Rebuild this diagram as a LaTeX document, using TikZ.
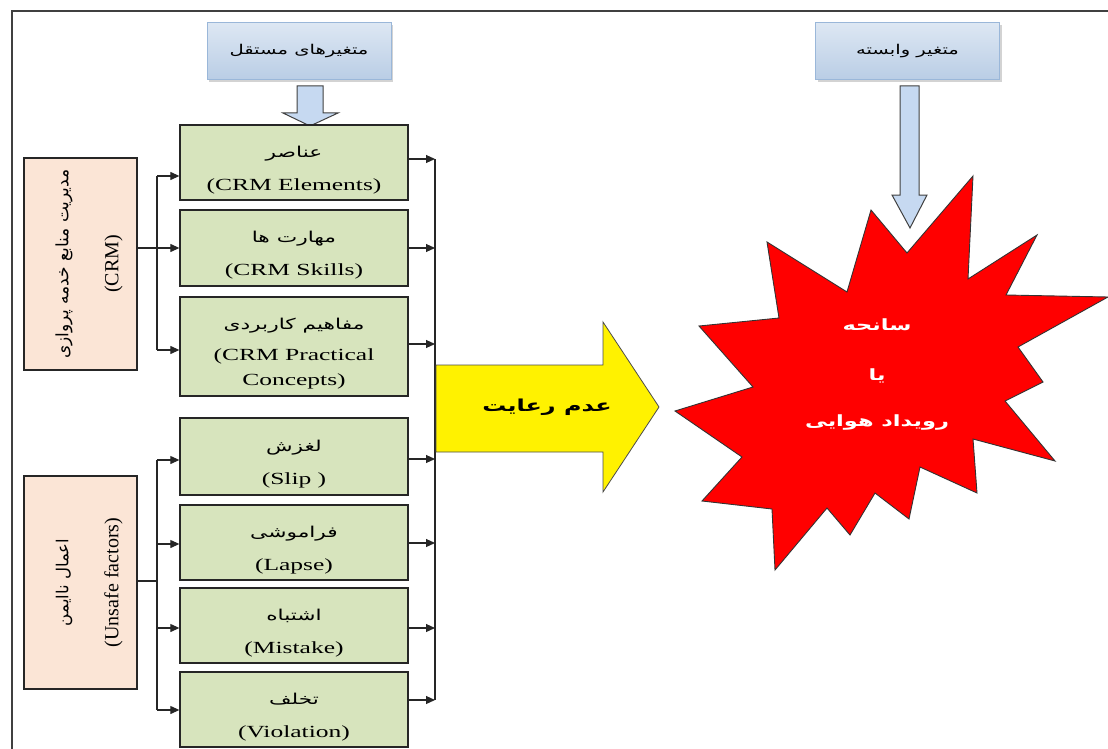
\documentclass[tikz,border=0pt]{standalone}
\usepackage{fontspec}
\setmainfont{Liberation Serif}
\newfontfamily\en[FakeStretch=1.5]{Liberation Serif}
\newfontfamily\enr{Liberation Serif}
\newfontfamily\fa[Script=Arabic]{DejaVu Sans}
\newfontfamily\faw[Script=Arabic,FakeStretch=1.45]{DejaVu Sans}
\TeXXeTstate=1
\usetikzlibrary{shadows,arrows.meta}
\definecolor{greenfill}{HTML}{D7E4BD}
\definecolor{peachfill}{HTML}{FBE5D6}
\definecolor{titletop}{HTML}{DDE7F3}
\definecolor{titlebot}{HTML}{B9CDE5}
\definecolor{titleborder}{HTML}{9AB7D9}
\definecolor{arrowblue}{HTML}{C6D9F1}
\newcommand\FaBox[1]{\rule{0pt}{26pt}{\faw\fontsize{15}{33}\selectfont\beginR #1\endR}}
\newcommand\EnBox[1]{{\en\fontsize{17}{33}\selectfont #1}}
\begin{document}
\begin{tikzpicture}[x=1pt,y=-1pt,
  gbox/.style={draw=black!85, line width=1.3pt, fill=greenfill, minimum width=228pt, align=center, inner sep=0pt, font=\fontsize{17}{33}\selectfont},
  pbox/.style={draw=black!85, line width=1.3pt, fill=peachfill, rotate=90, minimum width=212pt, minimum height=113pt, align=center, inner sep=0pt, font=\fontsize{20}{50}\selectfont},
  tbox/.style={draw=titleborder, line width=1pt, top color=titletop, bottom color=titlebot, minimum width=184pt, minimum height=57pt, drop shadow={opacity=0.35, shadow xshift=2pt, shadow yshift=-2.5pt}},
  conn/.style={line width=1.1pt, black!85},
  arr/.style={conn, -{Triangle[length=9pt,width=8pt]}},
  barrow/.style={fill=arrowblue, draw=black!75, line width=1pt, line join=miter}
]
\useasboundingbox (0,0) rectangle (1108,749);
% frame
\draw[line width=1.2pt, black!75] (12,749) -- (12,11) -- (1108,11);

% title boxes
\node[tbox] (t1) at (299,51.5) {{\faw\fontsize{13.5}{16}\selectfont\beginR متغیرهای مستقل\endR}};
\node[tbox] (t2) at (907.5,51.5) {{\faw\fontsize{13.5}{16}\selectfont\beginR متغیر وابسته\endR}};

% block arrows
\draw[barrow] (297,86) -- (323,86) -- (323,113) -- (338,113) -- (310,126) -- (283,113) -- (297,113) -- cycle;
\draw[barrow] (900,86) -- (919,86) -- (919,195) -- (927,195) -- (910,228) -- (892,195) -- (900,195) -- cycle;

% green boxes
\node[gbox, minimum height=75pt] (b1) at (294,162.5) {\FaBox{عناصر}\\ \EnBox{(CRM Elements)}};
\node[gbox, minimum height=76pt] (b2) at (294,248) {\FaBox{مهارت ها}\\ \EnBox{(CRM Skills)}};
\node[gbox, minimum height=99pt] (b3) at (294,346.5) {\FaBox{مفاهیم کاربردی}\\[-2pt] \EnBox{(CRM Practical}\\[-8pt] \EnBox{Concepts)}};
\node[gbox, minimum height=77pt] (b4) at (294,456.5) {\FaBox{لغزش}\\ \EnBox{(Slip )}};
\node[gbox, minimum height=75pt] (b5) at (294,542.5) {\FaBox{فراموشی}\\ \EnBox{(Lapse)}};
\node[gbox, minimum height=75pt] (b6) at (294,625.5) {\FaBox{اشتباه}\\ \EnBox{(Mistake)}};
\node[gbox, minimum height=75pt] (b7) at (294,709.5) {\FaBox{تخلف}\\ \EnBox{(Violation)}};

% peach boxes
\node[pbox] (crm) at (80.5,264) {\rule{0pt}{30pt}{\fa\fontsize{17}{50}\selectfont\beginR مدیریت منابع خدمه پروازی\endR}\\{\enr\fontsize{20}{50}\selectfont (CRM)}};
\node[pbox, minimum width=213pt] (us) at (80.5,582.5) {\rule{0pt}{30pt}{\fa\fontsize{16.5}{50}\selectfont\beginR اعمال ناایمن\endR}\\{\enr\fontsize{20}{50}\selectfont (Unsafe factors)}};

% left buses
\coordinate (l1) at (157,248);
\coordinate (l1a) at (157,176);
\coordinate (l1c) at (157,350);
\draw[conn] (crm.south |- l1) -- (l1);
\draw[conn] (l1a) -- (l1c);
\draw[arr] (l1a) -- (b1.west |- l1a);
\draw[arr] (l1) -- (b2.west |- l1);
\draw[arr] (l1c) -- (b3.west |- l1c);

\coordinate (l2) at (157,581);
\coordinate (l2a) at (157,460);
\coordinate (l2b) at (157,544);
\coordinate (l2c) at (157,628);
\coordinate (l2d) at (157,710);
\draw[conn] (us.south |- l2) -- (l2);
\draw[conn] (l2a) -- (l2d);
\draw[arr] (l2a) -- (b4.west |- l2a);
\draw[arr] (l2b) -- (b5.west |- l2b);
\draw[arr] (l2c) -- (b6.west |- l2c);
\draw[arr] (l2d) -- (b7.west |- l2d);

% right bus
\coordinate (r1) at (435,159);
\coordinate (r2) at (435,248);
\coordinate (r3) at (435,344);
\coordinate (r4) at (435,459);
\coordinate (r5) at (435,543);
\coordinate (r6) at (435,628);
\coordinate (r7) at (435,700);
\draw[conn] (r1) -- (r7);
\draw[arr] (b1.east |- r1) -- (r1);
\draw[arr] (b2.east |- r2) -- (r2);
\draw[arr] (b3.east |- r3) -- (r3);
\draw[arr] (b4.east |- r4) -- (r4);
\draw[arr] (b5.east |- r5) -- (r5);
\draw[arr] (b6.east |- r6) -- (r6);
\draw[arr] (b7.east |- r7) -- (r7);

% yellow arrow
\draw[fill=yellow, draw=black!70, line width=0.8pt, line join=miter] (436,365) -- (603,365) -- (603,322) -- (659,407) -- (603,492) -- (603,452) -- (436,452) -- cycle;
\node (nc) at (547,407) {{\faw\bfseries\fontsize{16.5}{20}\selectfont\beginR عدم رعایت\endR}};

% star
\draw[fill=red, draw=black!80, line width=0.9pt, line join=miter]
 (973,176) -- (968,279) -- (1037,235) -- (1006,295) -- (1108,297) -- (1018,347)
 -- (1043,382) -- (1005,401) -- (1055,461) -- (973,439) -- (977,493) -- (920,467)
 -- (909,519) -- (875,493) -- (850,535) -- (827,508) -- (775,570) -- (772,509)
 -- (702,501) -- (742,457) -- (675,411) -- (753,387) -- (699,326) -- (779,318)
 -- (767,242) -- (847,292) -- (871,210) -- (907,253) -- cycle;
\node[align=center, text=white, font=\faw\bfseries\fontsize{15.5}{20}\selectfont] (acc) at (877,375)
 {\beginR سانحه\endR\\[30pt]\beginR یا\endR\\[26pt]\beginR رویداد هوایی\endR};
\end{tikzpicture}
\end{document}
